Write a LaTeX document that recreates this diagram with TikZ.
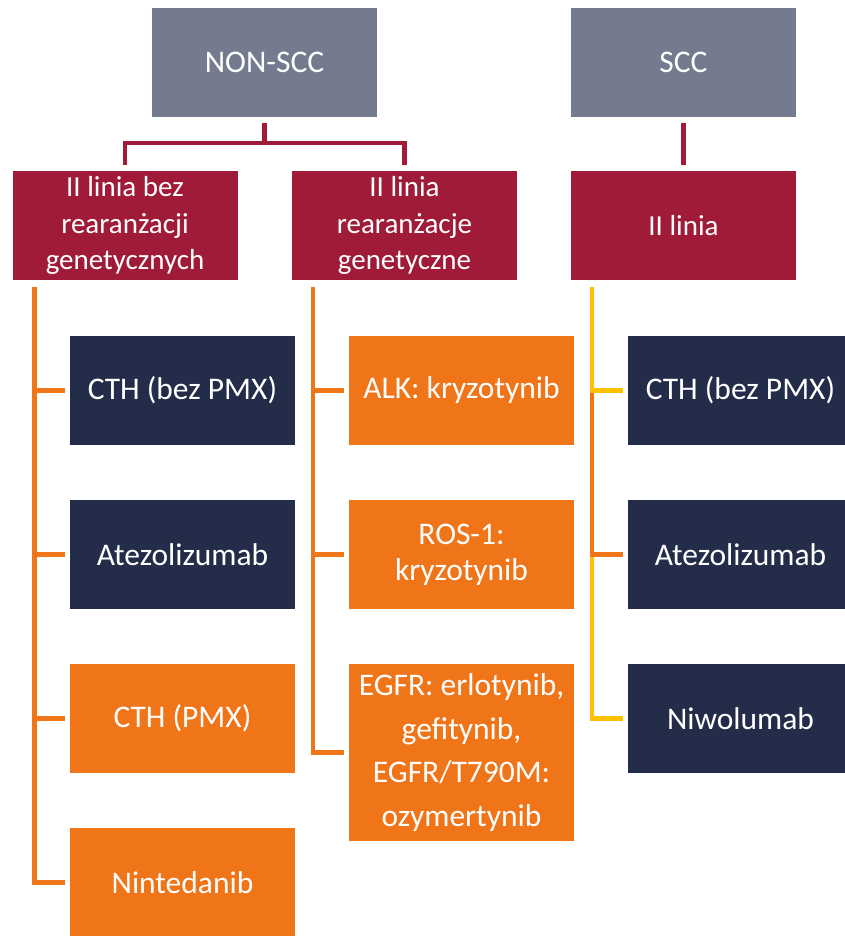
\documentclass[tikz,border=0pt]{standalone}
\usepackage{fontspec}
\setmainfont{Carlito}

\definecolor{topgrey}{RGB}{116,123,142}
\definecolor{linred}{RGB}{159,27,55}
\definecolor{leafnavy}{RGB}{35,45,73}
\definecolor{leaforange}{RGB}{240,116,24}
\definecolor{lineyellow}{RGB}{255,192,0}

\tikzset{
  box/.style={minimum width=225pt, minimum height=109pt, inner sep=0pt,
    align=center, text=white, font=\fontsize{31.5}{38}\selectfont},
  topbox/.style={box, fill=topgrey},
  linbox/.style={box, fill=linred, font=\fontsize{29}{36.5}\selectfont},
  navybox/.style={box, fill=leafnavy},
  orangebox/.style={box, fill=leaforange},
  redline/.style={draw=linred, line width=4.5pt},
  orangeline/.style={draw=leaforange, line width=4.5pt},
  yellowline/.style={draw=lineyellow, line width=4.5pt},
}

\begin{document}
\begin{tikzpicture}[x=1pt, y=-1pt]
  \useasboundingbox (0,0) rectangle (844,936);

  \node[topbox] (nonscc) at (264.5, 62.5) {NON-SCC};
  \node[topbox] (scc) at (683.5, 62.5) {SCC};

  \node[linbox] (lin1) at (125, 225.5) {II linia bez\\rearanżacji\\genetycznych};
  \node[linbox] (lin2) at (404.5, 225.5) {II linia\\rearanżacje\\genetyczne};
  \node[linbox] (lin3) at (683.5, 225.5) {II linia};

  \node[navybox] (cthbez) at (182.5, 390.5) {CTH (bez PMX)};
  \node[navybox] (atezo) at (182.5, 554.5) {Atezolizumab};
  \node[orangebox] (cthpmx) at (182.5, 718.5) {CTH (PMX)};
  \node[orangebox] (ninte) at (182.5, 882.5) {Nintedanib};

  \node[orangebox] (alk) at (461.5, 390.5) {ALK: kryzotynib};
  \node[orangebox, font=\fontsize{31.5}{36}\selectfont] (ros) at (461.5, 554.5) {ROS-1:\\kryzotynib};
  \node[orangebox, minimum height=177pt, font=\fontsize{31.5}{43.5}\selectfont] (egfr) at (461.5, 752.5)
    {EGFR: erlotynib,\\gefitynib,\\EGFR/T790M:\\ozymertynib};

  \node[navybox] (cthscc) at (740.5, 390.5) {CTH (bez PMX)};
  \node[navybox] (atezoscc) at (740.5, 554.5) {Atezolizumab};
  \node[navybox] (niwo) at (740.5, 718.5) {Niwolumab};

  % 上の線
  \coordinate (fork) at ([yshift=-26pt]nonscc.south);
  \draw[redline] ([yshift=-6pt]nonscc.south) -- (fork);
  \draw[redline] (fork) -| ([yshift=6pt]lin1.north);
  \draw[redline] (fork) -| ([yshift=6pt]lin2.north);
  \draw[redline] ([yshift=-6pt]scc.south) -- ([yshift=6pt]lin3.north);

  % 下の線
  \coordinate (l1) at ([xshift=22pt, yshift=-7pt]lin1.south west);
  \coordinate (l2) at ([xshift=21pt, yshift=-7pt]lin2.south west);
  \coordinate (l3) at ([xshift=21pt, yshift=-7pt]lin3.south west);

  \foreach \leaf in {ninte, cthpmx, atezo, cthbez} {
    \draw[orangeline] (l1) |- ([xshift=-5pt]\leaf.west);
  }
  \foreach \leaf in {egfr, ros, alk} {
    \draw[orangeline] (l2) |- ([xshift=-5pt]\leaf.west);
  }
  \draw[yellowline] (l3) |- ([xshift=-5pt]niwo.west);
  \draw[orangeline] (l3) |- ([xshift=-5pt]atezoscc.west);
  \draw[yellowline] (l3) |- ([xshift=-5pt]cthscc.west);
\end{tikzpicture}
\end{document}
